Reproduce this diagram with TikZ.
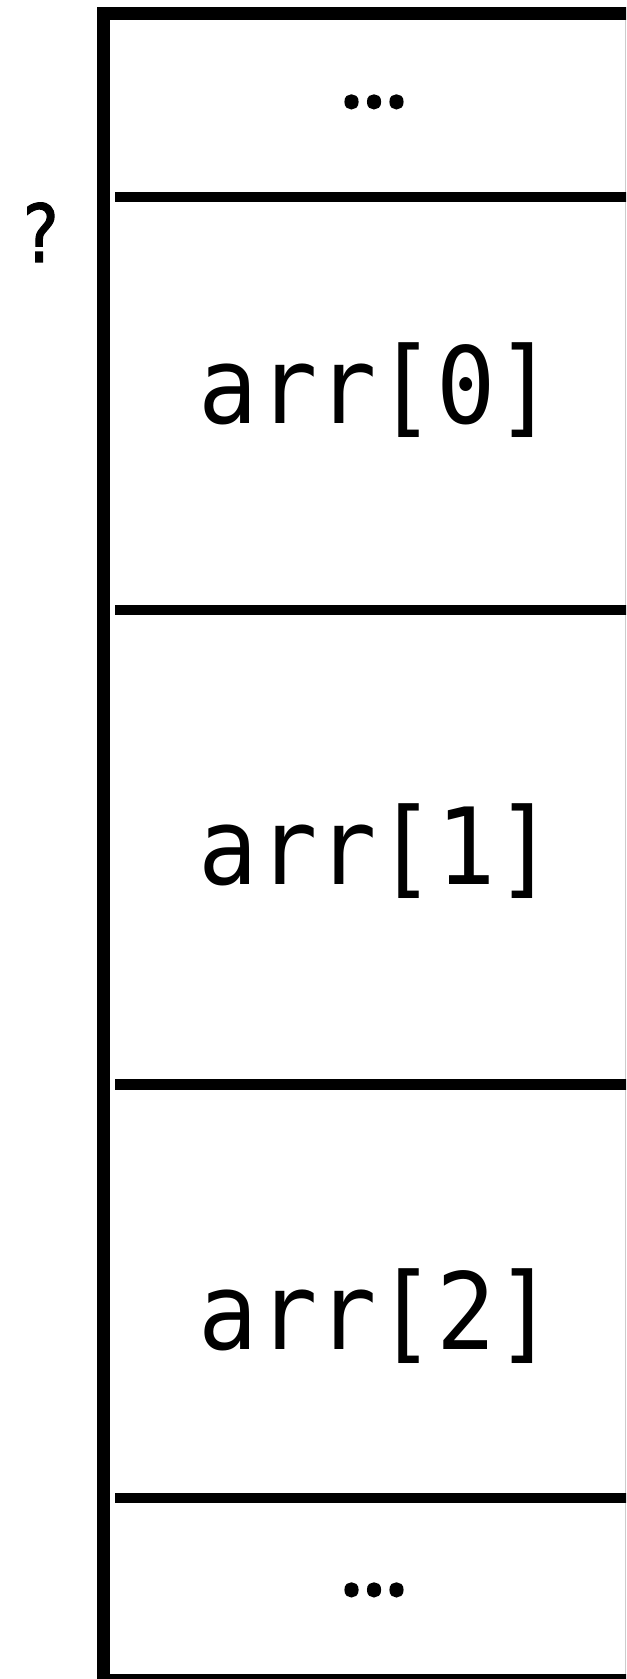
\documentclass[tikz,border=0pt]{standalone}
\usepackage{fontspec}
\setmonofont{DejaVu Sans Mono}
\newfontfamily\codefont[FakeStretch=0.927]{DejaVu Sans Mono}
\newfontfamily\qfont[FakeStretch=0.85,FakeBold=1.5]{DejaVu Sans Mono}
\newfontfamily\dotsfont[FakeBold=4]{Noto Sans}
\begin{document}
\begin{tikzpicture}[x=0.5pt,y=-0.5pt,
  outerbox/.style={line width=6.5pt, draw=black},
  sepline/.style={line width=5.25pt, draw=black},
  celltext/.style={font=\codefont\fontsize{53.2}{58}\selectfont, anchor=base, inner sep=0pt},
  dotstext/.style={font=\dotsfont\fontsize{43}{47}\selectfont, anchor=base, inner sep=0pt},
  qtext/.style={font=\qfont\fontsize{40}{44}\selectfont, anchor=base, inner sep=0pt}]
\useasboundingbox (0,0) rectangle (626,1679);
\fill[white] (0,0) rectangle (626,1679);
\clip (0,0) rectangle (626,1679);
\draw[outerbox] (103.5,13.5) rectangle (700,1680.5);
\draw[gray!40, line width=0.5pt] (625.5,20) -- (625.5,1674);
\coordinate (s1l) at (115,197);    \coordinate (s1r) at (640,197);
\coordinate (s2l) at (115,610);    \coordinate (s2r) at (640,610);
\coordinate (s3l) at (115,1084.5); \coordinate (s3r) at (640,1084.5);
\coordinate (s4l) at (115,1498);   \coordinate (s4r) at (640,1498);
\draw[sepline] (s1l) -- (s1r);
\draw[sepline] (s2l) -- (s2r);
\draw[sepline] (s3l) -- (s3r);
\draw[sepline] (s4l) -- (s4r);
\node[dotstext] (top) at (374,106.5) {…};
\node[celltext] (a0) at (377,424) {arr[0]};
\node[celltext] (a1) at (377,884) {arr[1]};
\node[celltext] (a2) at (377,1349) {arr[2]};
\node[dotstext] (bot) at (374,1594.5) {…};
\node[qtext] (q) at (40,262) {?};
\end{tikzpicture}
\end{document}
